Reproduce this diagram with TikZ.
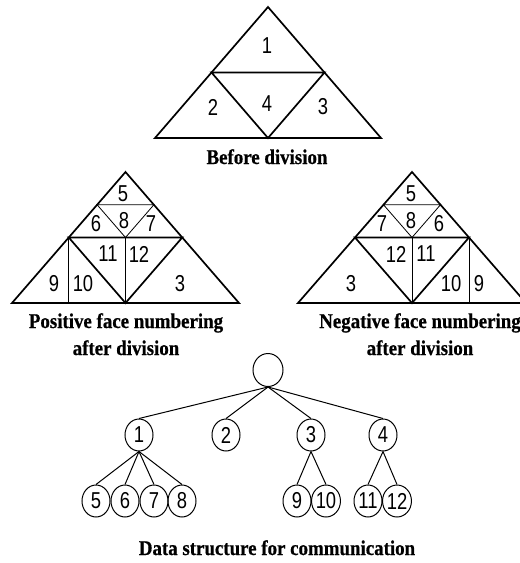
\documentclass[tikz,border=0pt]{standalone}
\usepackage{fontspec}
\setmainfont{Liberation Serif}
\newfontfamily\digitfont[FakeStretch=0.8]{Liberation Sans}
\newfontfamily\capfont[FakeStretch=0.9,FakeBold=0.6]{Liberation Serif}
\usetikzlibrary{shapes.geometric}
\begin{document}
\begin{tikzpicture}[x=1pt,y=-1pt,
  thickline/.style={line width=1.7pt,line join=miter},
  thinline/.style={line width=0.8pt},
  num/.style={inner sep=0pt,font=\digitfont\fontsize{23}{23}\selectfont},
  captext/.style={inner sep=0pt,anchor=base,align=center,font=\capfont\bfseries\fontsize{21}{27}\selectfont},
  tnode/.style={draw,line width=1pt,ellipse,inner sep=0pt,minimum width=28pt,minimum height=32pt,font=\digitfont\fontsize{23}{23}\selectfont},
  tedge/.style={line width=1pt}]
\useasboundingbox (0,0) rectangle (520,563);

% ---------- Before division ----------
\coordinate (tA) at (268,7);
\coordinate (tL) at (155,138);
\coordinate (tR) at (381,138);
\coordinate (tML) at (211.5,72.5);
\coordinate (tMR) at (324.5,72.5);
\coordinate (tMB) at (268,138);
\draw[thickline] (tA) -- (tR) -- (tL) -- cycle;
\draw[thickline] (tML) -- (tMR) -- (tMB) -- cycle;
\node[num] (t1) at (267,46) {1};
\node[num] (t2) at (213,107) {2};
\node[num] (t4) at (267,104) {4};
\node[num] (t3) at (323,107) {3};
\node[captext] (tcap) at (267,164) {Before division};

% ---------- Positive ----------
\coordinate (pA) at (125.5,172);
\coordinate (pL) at (12,303);
\coordinate (pR) at (239,303);
\coordinate (pML) at (68.75,237.5);
\coordinate (pMR) at (182.25,237.5);
\coordinate (pMB) at (125.5,303);
\coordinate (pQL) at (97.1,204.75);
\coordinate (pQR) at (153.9,204.75);
\coordinate (pQB) at (125.5,237.5);
\draw[thinline] (pQL) -- (pQR) -- (pQB) -- cycle;
\draw[thinline] (pML) -- (68.75,303);
\draw[thinline] (pQB) -- (pMB);
\draw[thickline] (pA) -- (pR) -- (pL) -- cycle;
\draw[thickline] (pML) -- (pMR) -- (pMB) -- cycle;
\node[num] (p5) at (123,194) {5};
\node[num] (p6) at (96,224) {6};
\node[num] (p8) at (124,221) {8};
\node[num] (p7) at (151,224) {7};
\node[num] (p11) at (108,254) {11};
\node[num] (p12) at (139,254) {12};
\node[num] (p9) at (54,284) {9};
\node[num] (p10) at (83,284) {10};
\node[num] (p3) at (180,284) {3};
\node[captext] (pcap) at (126,355) {Positive face numbering\\after division};

% ---------- Negative ----------
\coordinate (nA) at (412,172);
\coordinate (nL) at (298,303);
\coordinate (nR) at (526,303);
\coordinate (nML) at (355,237.5);
\coordinate (nMR) at (469,237.5);
\coordinate (nMB) at (412,303);
\coordinate (nQL) at (383.5,204.75);
\coordinate (nQR) at (440.5,204.75);
\coordinate (nQB) at (412,237.5);
\draw[thinline] (nQL) -- (nQR) -- (nQB) -- cycle;
\draw[thinline] (nMR) -- (469,303);
\draw[thinline] (nQB) -- (nMB);
\draw[thickline] (nA) -- (nR) -- (nL) -- cycle;
\draw[thickline] (nML) -- (nMR) -- (nMB) -- cycle;
\node[num] (n5) at (411,194) {5};
\node[num] (n7) at (382,224) {7};
\node[num] (n8) at (411,221) {8};
\node[num] (n6) at (439,224) {6};
\node[num] (n12) at (396,254) {12};
\node[num] (n11) at (426,254) {11};
\node[num] (n3) at (351,284) {3};
\node[num] (n10) at (451,284) {10};
\node[num] (n9) at (479,284) {9};
\node[captext] (ncap) at (420,355) {Negative face numbering\\after division};

% ---------- Tree ----------
\node[tnode,minimum width=30pt,minimum height=33pt] (root) at (268,370) {};
\node[tnode] (c1) at (139,435) {1};
\node[tnode] (c2) at (226,435) {2};
\node[tnode] (c3) at (311,435) {3};
\node[tnode] (c4) at (383,435) {4};
\node[tnode] (c5) at (96,501) {5};
\node[tnode] (c6) at (125,501) {6};
\node[tnode] (c7) at (154,501) {7};
\node[tnode] (c8) at (182,501) {8};
\node[tnode] (c9) at (297,501) {9};
\node[tnode] (c10) at (326,501) {10};
\node[tnode] (c11) at (368,501) {11};
\node[tnode] (c12) at (397,501) {12};
\foreach \c in {c1,c2,c3,c4} \draw[tedge] (root.south) -- (\c.north);
\foreach \c in {c5,c6,c7,c8} \draw[tedge] (c1.south) -- (\c.north);
\foreach \c in {c9,c10} \draw[tedge] (c3.south) -- (\c.north);
\foreach \c in {c11,c12} \draw[tedge] (c4.south) -- (\c.north);
\node[captext] (dcap) at (277,555) {Data structure for communication};
\end{tikzpicture}
\end{document}
